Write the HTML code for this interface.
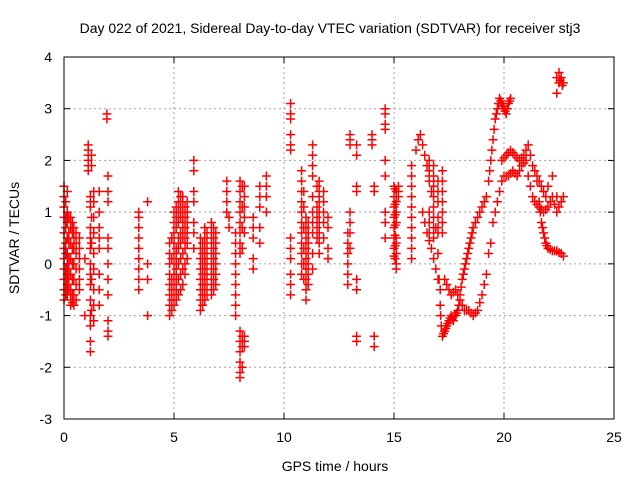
<!DOCTYPE html>
<html><head><meta charset="utf-8"><style>
html,body{margin:0;padding:0;background:#fff;}
svg{display:block;font-family:"Liberation Sans",sans-serif;}
</style></head><body>
<svg id="chart" width="640" height="480">
<text x="330" y="33" text-anchor="middle" font-size="14">Day 022 of 2021, Sidereal Day-to-day VTEC variation (SDTVAR) for receiver stj3</text>
<text x="335" y="471" text-anchor="middle" font-size="14">GPS time / hours</text>
<text transform="translate(19,238) rotate(-90)" text-anchor="middle" font-size="14">SDTVAR / TECUs</text>
<g id="grid"></g>
<g id="ticks"></g>
<g id="marks"></g>
<rect x="64" y="57" width="550" height="362" fill="none" stroke="#000" stroke-width="1"/>
</svg>
<script>
const xTicks=[0,5,10,15,20,25];
const yTicks=[-3,-2,-1,0,1,2,3,4];
const colHours=[0,0.15,0.3,0.45,0.7,0.95,1.1,1.2,1.35,1.6,1.95,2.0,3.4,3.8,4.8,5.0,5.2,5.4,5.6,5.9,6.2,6.4,6.7,6.9,7.4,7.5,7.8,8.0,8.2,8.0,8.2,8.6,8.9,9.2,10.3,10.3,10.8,11.0,11.3,11.6,11.8,12.0,12.9,13.0,13.3,14.0,14.1,14.6,15.0,15.1,15.2,15.8,16.8,17.2,
0.08,0.22,0.38,0.55,1.25,4.9,5.1,5.3,5.5,6.3,6.5,6.8,8.1,10.9,11.1,11.5,15.05,16.6,17.0];
const colValues=[
[1.5,1.3,1.1,0.9,0.6,0.3,0.1,-0.1,-0.3,-0.5,-0.7],
[1.4,1.0,0.8,0.5,0.2,0,-0.2,-0.4,-0.6],
[0.9,0.8,0.7,0.4,0.1,-0.2,-0.5,-0.7,-0.8],
[0.7,0.6,0.5,0.3,0,-0.3,-0.6,-0.8],
[0.5,0.3,0.1,-0.1,-0.3,-0.5],
[0.1,-1.0],
[2.3,2.2,2.1,2.0,1.9,1.8],
[1.3,1.2,1.1,0.7,0.5,0.3,0.0,-0.2,-0.4,-0.7,-1.0,-1.2,-1.5,-1.7],
[1.4,1.2,0.9,0.6,0.2,-0.1,-0.5,-0.8,-1.1],
[1.4,1.0,0.7,0.5,0.3,-0.2,-0.5,-0.8],
[2.9,2.8,2.8],
[1.7,1.4,1.2,0.5,0.3,0.0,-0.3,-0.6,-1.1,-1.3,-1.4],
[1.0,0.9,0.7,0.5,0.3,0.1,-0.1,-0.3,-0.5],
[1.2,-1.0,0.0,-0.3],
[0.4,0.2,0,-0.2,-0.4,-0.6,-0.8,-1.0],
[1.0,0.8,0.6,0.4,0.2,0,-0.2,-0.4,-0.6,-0.8],
[1.4,1.2,1.0,0.8,0.5,0.3,0,-0.3,-0.6],
[1.3,1.1,0.9,0.7,0.5,0.2,-0.1,-0.4],
[1.2,1.0,0.8,0.6,0.4,0.1],
[2.0,1.8,1.4,1.2,0.8,0.6,0.3],
[0.5,0.3,0.1,-0.1,-0.3,-0.5,-0.7,-0.9],
[0.7,0.5,0.3,0.1,-0.1,-0.3,-0.5,-0.7],
[0.8,0.6,0.4,0.2,0.0,-0.2,-0.4,-0.6],
[0.6,0.4,0.2,0,-0.2,-0.4],
[1.6,1.4,1.2,1.0,1.0],
[0.9,0.7],
[0.6,0.4,0.2,0,-0.2,-0.4,-0.6,-0.8,-1.0],
[1.6,1.4,1.2,1.0,0.8,0.6,0.4,0.2],
[1.5,1.3,1.1,0.9,0.6,0.6],
[-1.3,-1.5,-1.7,-1.9,-2.1,-2.2],
[-1.4,-1.5,-1.6],
[0.9,0.7,0.5,0.1,-0.1],
[1.5,1.3,1.1,0.7,0.4],
[1.7,1.5,1.3,1.0],
[3.1,2.9,2.8,2.5,2.3,2.2,2.2],
[0.5,0.3,0.1,-0.2,-0.4,-0.6],
[1.8,1.6,1.4,1.2,1.0,0.8,0.6,0.4,0.2,0.0,-0.2],
[0.9,0.7,0.5,0.3,0.1,-0.1,-0.3,-0.5,-0.7],
[2.3,2.1,1.9,1.7,1.3,1.0,0.8,0.6,0.2,-0.1],
[1.6,1.4,1.3,1.2,1.0,0.8,0.6,0.4,0.2],
[1.4,1.2,1.0,0.8,0.5],
[0.3,0.1,0.7,0.9],
[0.6,0.4,0.2,0,-0.2,-0.4],
[2.5,2.4,2.3,1.0,0.8,0.6,0.3],
[2.3,2.1,1.5,1.4,-0.3,-0.5,-1.4,-1.5],
[2.5,2.3,2.4],
[1.5,1.4,-1.4,-1.6],
[3.0,2.9,2.7,2.6,2.0,1.7,1.0,0.8,0.5],
[1.5,1.3,1.1,0.9,0.7,0.5,0.3,0.15],
[1.4,1.3,1.2,1.0,0.8,0.5,0.4,0.2,0.0,-0.1],
[1.5,1.4,1.3],
[1.9,1.7,1.5,1.3,1.1,0.9,0.7,0.5,0.3,0.1],
[1.9,1.7,1.5,1.3,1.1,0.9,0.7,0.5],
[1.8,1.6,1.4,1.2,1.0,0.8,0.6],
[1.2,0.9,0.7,0.4,0.2,-0.1,-0.3,-0.5,-0.6],
[0.9,0.6,0.4,0.1,-0.1,-0.3,-0.5],
[0.8,0.6,0.3,0.0,-0.3,-0.6,-0.75],
[0.6,0.4,0.2,-0.1,-0.4,-0.7],
[2.1,1.9,0.9,0.4,-0.3,-0.9],
[0.5,0.1,-0.3,-0.5,-0.7,-0.9],
[1.1,0.9,0.7,0.3,0.1,-0.1,-0.3,-0.5,-0.7],
[1.3,1.1,0.9,0.6,0.4,0.1,-0.2,-0.5],
[1.1,0.9,0.7,0.5,0.3,0.0,-0.2],
[0.4,0.2,0.0,-0.2,-0.4,-0.6,-0.8],
[0.6,0.4,0.2,0.0,-0.2,-0.4,-0.6],
[0.7,0.5,0.3,0.1,-0.1,-0.3,-0.5],
[1.5,1.1,0.7,0.3,-1.4,-1.6,-2.0],
[1.4,1.1,0.7,0.3,0.0,-0.3],
[0.8,0.6,0.4,0.2,0.0,-0.2,-0.4],
[1.5,1.1,0.9,0.7,0.5],
[1.45,1.15,0.95,0.75,0.55,0.35,0.1],
[2.0,1.8,1.6,1.0,0.8,0.6],
[1.6,1.4,1.2,0.9,0.7,0.6]
];
const curveA=[[16.0,2.2],[16.1,2.4],[16.2,2.5],[16.3,2.3],[16.4,2.1],[16.5,1.9],[16.6,1.7],[16.7,1.4],[16.8,1.1],[16.9,0.7],[17.0,0.2],[17.05,-0.3],[17.1,-0.8],[17.15,-1.2],[17.2,-1.4],[17.3,-1.3],[17.4,-1.2],[17.5,-1.1],[17.6,-1.0],[17.7,-1.1],[17.8,-1.0],[17.9,-0.9],[18.0,-0.6],[18.1,-0.3],[18.2,-0.1],[18.3,0.1],[18.4,0.3],[18.5,0.5],[18.6,0.7],[18.7,0.8],[18.8,0.9],[18.9,1.0],[19.0,1.1],[19.1,1.2],[19.2,1.3],[19.3,1.6],[19.4,2.0],[19.5,2.4],[19.6,2.8],[19.7,3.0],[19.8,3.2],[19.9,3.1],[20.0,3.0],[20.1,2.9],[20.2,3.1],[20.3,3.2],
[17.12,-1.0],[17.25,-1.35],[17.35,-1.25],[17.45,-1.15],[17.55,-1.05],[17.65,-1.05],[17.75,-1.0],[17.85,-0.95],[17.95,-0.8],[18.05,-0.45],[18.15,-0.2],[18.25,0.0],[18.35,0.2],[18.45,0.4],[18.55,0.6],[19.35,1.8],[19.45,2.2],[19.55,2.6],[19.65,2.9],[19.75,3.1],[19.85,3.15],[19.95,3.05],[20.05,2.95],[20.15,3.0],[20.25,3.15]];
const curveB=[[16.3,1.0],[16.5,0.6],[16.7,0.3],[16.9,-0.1],[17.1,-0.5],[17.3,-0.3],[17.5,-0.5],[17.6,-0.6],[17.8,-0.5],[18.0,-0.7],[18.2,-0.9],[18.4,-0.9],[18.6,-1.0],[18.8,-0.9],[19.0,-0.6],[19.1,-0.4],[19.2,-0.2],[19.3,0.2],[19.4,0.4],
[16.4,0.8],[16.6,0.45],[16.8,0.1],[17.0,-0.3],[17.4,-0.4],[17.7,-0.55],[17.9,-0.6],[18.1,-0.8],[18.3,-0.9],[18.5,-0.95],[18.7,-0.95],[18.9,-0.75]];
const curveC=[[19.5,0.8],[19.6,1.0],[19.7,1.2],[19.8,1.4],[19.9,1.6],[20.0,1.7],[20.2,1.7],[20.4,1.8],[20.6,1.7],[20.8,1.9],[21.0,2.0],[21.2,1.5],[21.4,1.2],[21.6,1.1],[21.8,1.0],[22.0,1.1],[22.2,1.3],[22.4,1.0],[22.6,1.2],
[20.1,1.7],[20.3,1.75],[20.5,1.75],[20.7,1.8],[20.9,1.95],[21.1,1.7],[21.3,1.3],[21.5,1.15],[21.7,1.05],[21.9,1.05],[22.1,1.2],[22.3,1.15],[22.5,1.1],[22.7,1.3]];
const curveD=[[19.9,2.0],[20.1,2.1],[20.3,2.2],[20.5,2.1],[20.7,2.0],[20.9,2.1],[21.1,2.3],[21.3,1.9],[21.5,1.7],[21.7,1.5],[21.9,1.3],[22.0,1.5],[22.2,1.7],[22.4,1.3],
[20.0,2.05],[20.2,2.15],[20.4,2.15],[20.6,2.05],[20.8,2.05],[21.0,2.2],[21.2,2.1],[21.4,1.8],[21.6,1.6],[21.8,1.4]];
const curveE=[[21.5,1.6],[21.6,1.2],[21.7,0.8],[21.8,0.6],[21.9,0.4],[22.0,0.3],[22.2,0.25],[22.4,0.25],[22.6,0.2],[22.7,0.15],
[21.65,1.0],[21.75,0.7],[21.85,0.5],[21.95,0.35],[22.1,0.28],[22.3,0.25],[22.5,0.22]];
const curveF=[[22.4,3.6],[22.5,3.5],[22.6,3.6],[22.7,3.5],[22.4,3.3],[22.5,3.7],[22.55,3.55],[22.65,3.45]];

const X0=64,X1=614,Y0=419,Y1=57;
function sx(t){return X0+(t-0)/(25-0)*(X1-X0);}
function sy(v){return Y0-(v-(-3))/(4-(-3))*(Y0-Y1);}
const NS="http://www.w3.org/2000/svg";
const grid=document.getElementById('grid'),ticks=document.getElementById('ticks'),marks=document.getElementById('marks');
function mk(tag,attrs,parent){const e=document.createElementNS(NS,tag);for(const k in attrs)e.setAttribute(k,attrs[k]);parent.appendChild(e);return e;}
xTicks.forEach(t=>{
  const x=sx(t);
  if(t>0&&t<25){const g=mk('line',{x1:x,y1:Y1,x2:x,y2:Y0,stroke:'#a0a0a0','stroke-dasharray':'2,3'},grid);
  
  }
  mk('line',{x1:x,y1:Y0,x2:x,y2:Y0-6,stroke:'#000'},ticks);
  mk('line',{x1:x,y1:Y1,x2:x,y2:Y1+6,stroke:'#000'},ticks);
  const l=mk('text',{x:x,y:Y0+23,'text-anchor':'middle','font-size':'14'},ticks);
  l.textContent=t;
  
  
});
yTicks.forEach(v=>{
  const y=sy(v);
  if(v>-3&&v<4){const g=mk('line',{x1:X0,y1:y,x2:X1,y2:y,stroke:'#a0a0a0','stroke-dasharray':'2,3'},grid);
  
  }
  mk('line',{x1:X0,y1:y,x2:X0+6,y2:y,stroke:'#000'},ticks);
  mk('line',{x1:X1,y1:y,x2:X1-6,y2:y,stroke:'#000'},ticks);
  const l=mk('text',{x:X0-12,y:y+5,'text-anchor':'end','font-size':'14'},ticks);
  l.textContent=v;
  
  
});
let d='';
function plus(t,v){const x=sx(t),y=sy(v);d+='M'+(x-4.5)+' '+y+'h9M'+x+' '+(y-4.5)+'v9';}
colHours.forEach((t,i)=>colValues[i].forEach(v=>plus(t,v)));
[curveA,curveB,curveC,curveD,curveE,curveF].forEach(c=>c.forEach(p=>plus(p[0],p[1])));
const p=mk('path',{d:d,stroke:'#ff0000','stroke-width':'1.5',fill:'none'},marks);


</script>
</body></html>
